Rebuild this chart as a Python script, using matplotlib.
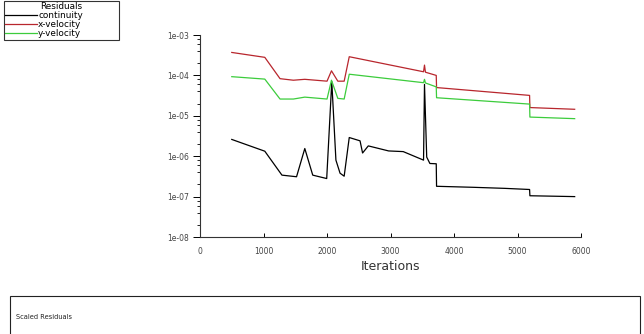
import matplotlib.pyplot as plt
from matplotlib.patches import Rectangle
from matplotlib.ticker import FuncFormatter, LogLocator, NullFormatter
import numpy as np

# residual history
it_vel = [500, 1020, 1260, 1470, 1650, 2000, 2070, 2170, 2270, 2350, 3520, 3535, 3550, 3720, 3725, 5190, 5195, 5900]
x_vel = [3.7e-4, 2.8e-4, 8.3e-5, 7.6e-5, 8.0e-5, 7.2e-5, 1.3e-4, 7.2e-5, 7.2e-5, 2.9e-4, 1.23e-4, 1.8e-4, 1.2e-4, 1.0e-4, 5.0e-5, 3.2e-5, 1.6e-5, 1.45e-5]
y_vel = [9.3e-5, 8.1e-5, 2.6e-5, 2.6e-5, 2.9e-5, 2.6e-5, 7.6e-5, 2.7e-5, 2.6e-5, 1.07e-4, 6.6e-5, 8.0e-5, 6.5e-5, 5.2e-5, 2.8e-5, 1.95e-5, 9.3e-6, 8.5e-6]

it_cont = [500, 1020, 1290, 1520, 1650, 1775, 1995, 2075, 2140, 2205, 2270, 2350, 2520, 2560, 2650,
           2970, 3200, 3520, 3535, 3570, 3620, 3720, 3725, 4300, 4800, 5190, 5195, 5900]
cont = [2.6e-6, 1.33e-6, 3.4e-7, 3.1e-7, 1.55e-6, 3.4e-7, 2.8e-7, 7e-5, 8e-7, 3.8e-7, 3.2e-7, 2.9e-6, 2.4e-6, 1.2e-6, 1.8e-6,
        1.35e-6, 1.3e-6, 8e-7, 6e-5, 9.5e-7, 6.6e-7, 6.5e-7, 1.8e-7, 1.7e-7, 1.6e-7, 1.5e-7, 1.05e-7, 1.0e-7]

fig = plt.figure(figsize=(6.44, 3.34), dpi=100)
ax = fig.add_axes([0.3106, 0.2904, 0.5916, 0.6048])

l1, = ax.plot(it_cont, cont, color="black", lw=0.9, label="continuity")
l2, = ax.plot(it_vel, x_vel, color="#b8262d", lw=0.9, label="x-velocity")
l3, = ax.plot(it_vel, y_vel, color="#3ccc3c", lw=0.9, label="y-velocity")

ax.set_yscale("log")
ax.set_ylim(1e-8, 1e-3)
ax.set_xlim(0, 6000)
ax.set_xticks(range(0, 6001, 1000))
ax.yaxis.set_major_locator(LogLocator(base=10))
ax.yaxis.set_major_formatter(FuncFormatter(lambda v, p: "1e-%02d" % round(-np.log10(v))))
ax.yaxis.set_minor_locator(LogLocator(base=10, subs=(2, 4, 6, 8)))
ax.yaxis.set_minor_formatter(NullFormatter())

for s in ["top", "right"]:
    ax.spines[s].set_visible(False)
for s in ["left", "bottom"]:
    ax.spines[s].set_color("#333333")
    ax.spines[s].set_linewidth(0.8)

ax.tick_params(axis="y", which="major", direction="out", length=5, width=0.7, labelsize=5.5, labelcolor="#444444", pad=3)
ax.tick_params(axis="y", which="minor", direction="out", length=2, width=0.6)
ax.tick_params(axis="x", which="major", direction="in", length=3, width=0.7, labelsize=5.5, labelcolor="#444444", pad=7)
ax.set_xlabel("Iterations", fontsize=9, color="#333333", labelpad=3)

leg = fig.legend(handles=[l1, l2, l3], title="Residuals", loc="upper left",
                 bbox_to_anchor=(0.006, 0.5, 0.179, 0.497), mode="expand",
                 fontsize=6.4, title_fontsize=6.4, frameon=True, fancybox=False,
                 edgecolor="black", borderpad=0.15, labelspacing=0.0,
                 handlelength=3.6, handletextpad=0.1, borderaxespad=0)
leg.get_frame().set_linewidth(0.8)

fig.add_artist(Rectangle((10 / 644, -0.05), 630 / 644, 1 - 296 / 334 + 0.05,
                         transform=fig.transFigure, fill=False, edgecolor="#222222", lw=0.8))
fig.text(16 / 644, 1 - 317 / 334, "Scaled Residuals", fontsize=4.8, color="#222222", va="center")

plt.savefig("out.png", dpi=100)
